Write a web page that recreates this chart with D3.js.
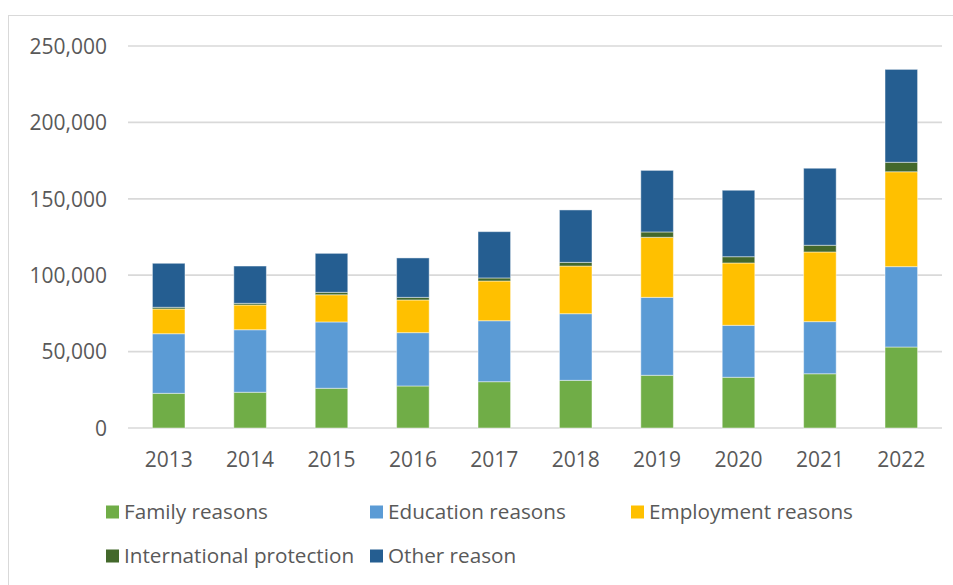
<!DOCTYPE html>
<html>
<head>
<meta charset="utf-8">
<script src="https://cdn.jsdelivr.net/npm/d3@7"></script>
<style>
html,body{margin:0;padding:0;background:#fff;}
svg{display:block;}
text{font-family:"Open Sans",sans-serif;fill:#595959;}
</style>
</head>
<body>
<svg id="chart" width="953" height="585"></svg>
<script>
const years = ["2013","2014","2015","2016","2017","2018","2019","2020","2021","2022"];
const seriesNames = ["Family reasons","Education reasons","Employment reasons","International protection","Other reason"];
const family     = [22700, 23400, 26000, 27500, 30300, 31200, 34500, 33200, 35500, 53000];
const education  = [39000, 40900, 43400, 34900, 39900, 43600, 51000, 34000, 34100, 52600];
const employment = [16200, 16200, 17800, 21400, 26000, 31200, 39300, 40800, 45600, 62100];
const intl       = [1100, 1100, 1600, 1700, 2000, 2400, 3500, 4100, 4400, 6200];
const other      = [28800, 24400, 25500, 25800, 30300, 34300, 40300, 43500, 50400, 60800];
const yTicks = [0, 50000, 100000, 150000, 200000, 250000];
const colors = ["#70AD47","#5B9BD5","#FFC000","#43682B","#255E91"];

const svg = d3.select("#chart");
const W = 953, H = 585;

// outer chart border
svg.append("rect").attr("x",8.5).attr("y",15.5).attr("width",W+10).attr("height",H+10)
  .attr("fill","none").attr("stroke","#D9D9D9").attr("stroke-width",1);

const x = d3.scaleBand().domain(years).range([128,942]).paddingInner(0.6).paddingOuter(0.3);
const y = d3.scaleLinear().domain([0,250000]).range([428,46]);

// gridlines
svg.append("g").selectAll("line").data(yTicks).join("line")
  .attr("x1",128).attr("x2",942)
  .attr("y1",d=>y(d)).attr("y2",d=>y(d))
  .attr("stroke","#D9D9D9").attr("stroke-width",1.7);

// y axis labels
const yAxis = d3.axisLeft(y).tickValues(yTicks).tickFormat(d3.format(",")).tickSize(0).tickPadding(0);
const gy = svg.append("g").attr("transform","translate(107,0)").call(yAxis);
gy.select(".domain").remove();
gy.selectAll("text").attr("font-size",21).attr("font-family","Open Sans, sans-serif").attr("fill","#595959").attr("dy","0.35em");

// x axis labels
const xAxis = d3.axisBottom(x).tickSize(0).tickPadding(0);
const gx = svg.append("g").attr("transform","translate(0,428)").call(xAxis);
gx.select(".domain").remove();
gx.selectAll("text").attr("font-size",21).attr("font-family","Open Sans, sans-serif").attr("fill","#595959").attr("dy",null).attr("y",38.5);

// stacked data
const table = years.map((yr,i)=>({year:yr, s0:family[i], s1:education[i], s2:employment[i], s3:intl[i], s4:other[i]}));
const stack = d3.stack().keys(["s0","s1","s2","s3","s4"]);
const layers = stack(table);

svg.append("g").selectAll("g").data(layers).join("g")
  .attr("fill",(d,i)=>colors[i])
  .selectAll("rect").data(d=>d).join("rect")
  .attr("x",d=>x(d.data.year))
  .attr("width",x.bandwidth())
  .attr("y",d=>y(d[1]))
  .attr("height",d=>y(d[0])-y(d[1]))
  .attr("stroke","rgba(255,255,255,0.45)").attr("stroke-width",1);

// legend
const legendPos = [[106,512],[370,512],[631,512],[106,556],[370,556]];
const lg = svg.append("g").selectAll("g").data(seriesNames).join("g")
  .attr("transform",(d,i)=>`translate(${legendPos[i][0]},${legendPos[i][1]})`);
lg.append("rect").attr("x",0).attr("y",-6.5).attr("width",13).attr("height",13).attr("fill",(d,i)=>colors[i]);
lg.append("text").attr("x",18).attr("y",0).attr("dy","0.35em").attr("font-size",20.7).text(d=>d);
</script>
</body>
</html>
